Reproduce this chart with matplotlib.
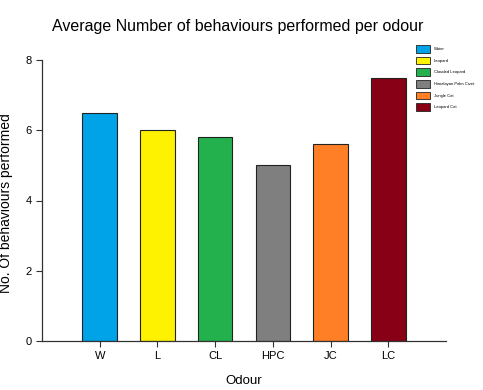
import matplotlib
matplotlib.use("Agg")
import matplotlib.pyplot as plt
from matplotlib.patches import Patch

categories = ["W", "L", "CL", "HPC", "JC", "LC"]
values = [6.5, 6.0, 5.8, 5.0, 5.6, 7.5]
legend_labels = ["Water", "Leopard", "Clouded Leopard", "Himalayan Palm Civet", "Jungle Cat", "Leopard Cat"]
colors = ["#00A2E8", "#FFF200", "#22B14C", "#7F7F7F", "#FF7F27", "#880015"]

plt.rcParams['font.family'] = ['Liberation Sans', 'DejaVu Sans']

fig = plt.figure(figsize=(4.83, 3.9), dpi=100)
ax = fig.add_axes([42/483, 49/390, (446-42)/483, (341-60)/390])

x = list(range(len(categories)))
ax.bar(x, values, width=0.6, color=colors, edgecolor="#222222", linewidth=0.8)
ax.set_xlim(-1.0, 6.0)
ax.set_ylim(0, 8)
ax.set_xticks(x)
ax.set_xticklabels(categories, fontsize=8)
ax.set_yticks([0, 2, 4, 6, 8])
ax.tick_params(axis='y', labelsize=8, length=4, width=0.8, direction='out', colors='#333333')
ax.tick_params(axis='x', length=4, width=0.8, direction='out', colors='#333333')
for lbl in ax.get_xticklabels() + ax.get_yticklabels():
    lbl.set_color('black')
for s in ['top', 'right']:
    ax.spines[s].set_visible(False)
for s in ['left', 'bottom']:
    ax.spines[s].set_color('#333333')
    ax.spines[s].set_linewidth(0.9)

ax.set_xlabel("Odour", fontsize=9.5, labelpad=10)
ax.set_ylabel("No. Of behaviours performed", fontsize=10)
ax.yaxis.set_label_coords((13 - 42) / 404, (341 - 203) / 281)
fig.text(238/483, 1 - 27/390, "Average Number of behaviours performed per odour",
         ha='center', va='center', fontsize=11.5)

handles = [Patch(facecolor=c, edgecolor="#222222", linewidth=0.6) for c in colors]
fig.legend(handles, legend_labels, loc='upper left', bbox_to_anchor=(416/483, 1 - 45/390),
           frameon=False, fontsize=3, handlelength=3.4, handleheight=2.4,
           labelspacing=1.0, handletextpad=0.8, borderaxespad=0, borderpad=0)

fig.savefig("out.png", dpi=100)
